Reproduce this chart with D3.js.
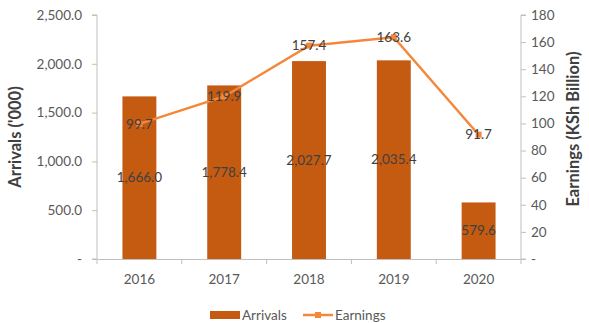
<!DOCTYPE html>
<html>
<head>
<meta charset="utf-8">
<script src="https://cdn.jsdelivr.net/npm/d3@7"></script>
<style>
  html, body { margin: 0; padding: 0; background: #fff; }
  svg { display: block; font-family: Lato, "Open Sans", sans-serif; }
</style>
</head>
<body>
<svg id="chart" width="589" height="323"></svg>
<script>
// Visitor arrivals and tourism earnings, 2016–2020
const years = ["2016", "2017", "2018", "2019", "2020"];
const arrivals = [1666.0, 1778.4, 2027.7, 2035.4, 579.6];
const earnings = [99.7, 119.9, 157.4, 163.6, 91.7];
const arrivalTicks = [0, 500, 1000, 1500, 2000, 2500];
const earningTicks = [0, 20, 40, 60, 80, 100, 120, 140, 160, 180];

const barColor = "#C55A11";
const lineColor = "#F4873A";
const axisColor = "#BFBFBF";
const tickText = "#595959";
const labelText = "#404040";

const svg = d3.select("#chart");
const margin = { left: 97, right: 68, top: 15, bottom: 64 };
const W = 589, H = 323;

const x = d3.scaleBand().domain(years)
  .range([margin.left, W - margin.right])
  .paddingInner(0.6).paddingOuter(0.3);
const yL = d3.scaleLinear().domain([0, 2500]).range([H - margin.bottom, margin.top]);
const yR = d3.scaleLinear().domain([0, 180]).range([H - margin.bottom, margin.top]);

const fmtL = v => v === 0 ? "-" : d3.format(",.1f")(v);
const fmtR = v => v === 0 ? "-" : d3.format("d")(v);

// Left axis
const gL = svg.append("g").attr("transform", `translate(${margin.left},0)`)
  .call(d3.axisLeft(yL).tickValues(arrivalTicks).tickFormat(fmtL).tickSize(5).tickPadding(10));
// Right axis
const gR = svg.append("g").attr("transform", `translate(${W - margin.right},0)`)
  .call(d3.axisRight(yR).tickValues(earningTicks).tickFormat(fmtR).tickSize(5).tickPadding(5));
// Category axis with ticks at band boundaries
const gX = svg.append("g").attr("transform", `translate(0,${H - margin.bottom})`)
  .call(d3.axisBottom(x).tickSize(0).tickPadding(15));

[gL, gR, gX].forEach(g => {
  g.select(".domain").attr("stroke", axisColor);
  g.selectAll(".tick line").attr("stroke", axisColor);
  g.selectAll(".tick text").attr("fill", tickText).style("font-size", "13.5px")
    .style("font-family", "Lato, 'Open Sans', sans-serif");
});
gL.select(".domain").attr("d", `M-5,${yL(2500)}H0V${yL(0)}H-5`);
gR.select(".domain").attr("d", `M5,${yR(180)}H0V${yR(0)}H5`);

const step = x.step();
const bounds = years.map(y => x(y) - (step - x.bandwidth()) / 2).concat([x(years[years.length - 1]) + x.bandwidth() + (step - x.bandwidth()) / 2]);
gX.selectAll(".boundary").data(bounds).join("line")
  .attr("x1", d => d).attr("x2", d => d).attr("y1", 0).attr("y2", 5)
  .attr("stroke", axisColor);

// Bars
svg.append("g").selectAll("rect").data(years).join("rect")
  .attr("x", d => x(d))
  .attr("y", (d, i) => yL(arrivals[i]))
  .attr("width", x.bandwidth())
  .attr("height", (d, i) => yL(0) - yL(arrivals[i]))
  .attr("fill", barColor);

// Earnings line
const cx = d => x(d) + x.bandwidth() / 2;
const line = d3.line().x((d, i) => cx(years[i])).y(d => yR(d));
svg.append("path").datum(earnings)
  .attr("d", line).attr("fill", "none")
  .attr("stroke", lineColor).attr("stroke-width", 2.5);
svg.append("g").selectAll("rect").data(earnings).join("rect")
  .attr("x", (d, i) => cx(years[i]) - 3)
  .attr("y", d => yR(d) - 3)
  .attr("width", 6).attr("height", 6)
  .attr("fill", lineColor);

// Data labels
svg.append("g").selectAll("text").data(arrivals).join("text")
  .attr("x", (d, i) => cx(years[i]))
  .attr("y", d => (yL(d) + yL(0)) / 2)
  .attr("dy", "0.35em").attr("text-anchor", "middle")
  .attr("fill", labelText).style("font-size", "13.5px")
  .text(d => d3.format(",.1f")(d));
svg.append("g").selectAll("text").data(earnings).join("text")
  .attr("x", (d, i) => cx(years[i]))
  .attr("y", d => yR(d))
  .attr("dy", "0.35em").attr("text-anchor", "middle")
  .attr("fill", labelText).style("font-size", "13.5px")
  .text(d => d3.format(".1f")(d));

// Axis titles
svg.append("text")
  .attr("transform", `translate(21,${(yL(0) + yL(2500)) / 2}) rotate(-90)`)
  .attr("text-anchor", "middle").attr("fill", "#404040")
  .style("font-size", "16.5px").style("font-weight", "bold")
  .text("Arrivals ('000)");
svg.append("text")
  .attr("transform", `translate(579,${(yR(0) + yR(180)) / 2 - 8}) rotate(-90)`)
  .attr("text-anchor", "middle").attr("fill", "#404040")
  .style("font-size", "16.5px").style("font-weight", "bold")
  .text("Earnings (KSh Billion)");

// Legend
const lg = svg.append("g").attr("transform", "translate(210,315)");
lg.append("rect").attr("x", 0).attr("y", -4).attr("width", 30).attr("height", 8).attr("fill", barColor);
lg.append("text").attr("x", 32).attr("y", 0).attr("dy", "0.35em")
  .attr("fill", tickText).style("font-size", "13.5px").text("Arrivals");
lg.append("line").attr("x1", 93).attr("x2", 123).attr("y1", 0).attr("y2", 0)
  .attr("stroke", lineColor).attr("stroke-width", 2.5);
lg.append("rect").attr("x", 105).attr("y", -3).attr("width", 6).attr("height", 6).attr("fill", lineColor);
lg.append("text").attr("x", 125).attr("y", 0).attr("dy", "0.35em")
  .attr("fill", tickText).style("font-size", "13.5px").text("Earnings");
</script>
</body>
</html>
